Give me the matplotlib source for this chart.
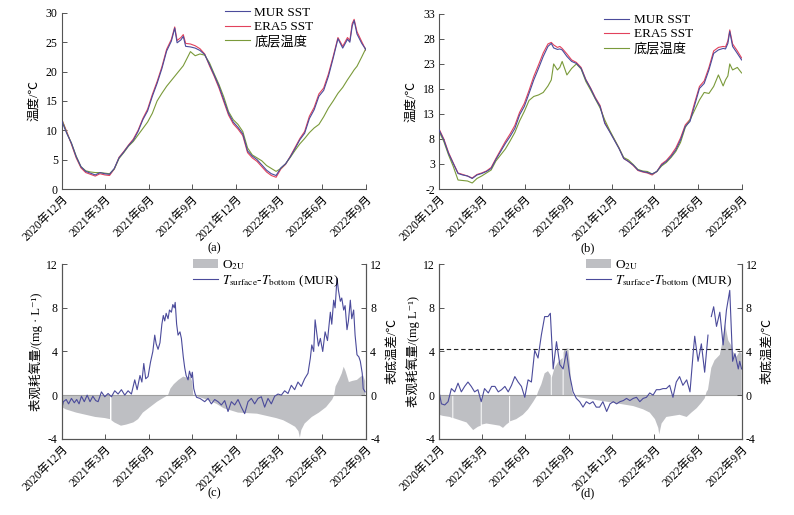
import numpy as np
import matplotlib
matplotlib.use("Agg")
import matplotlib.pyplot as plt

plt.rcParams["font.family"] = ["Liberation Serif", "Noto Sans CJK SC", "DejaVu Serif"]
plt.rcParams["mathtext.fontset"] = "stix"
plt.rcParams["axes.unicode_minus"] = False

START = np.datetime64("2020-12-01")

# ---- x ticks ----
tick_dates = ["2020-12-01", "2021-03-01", "2021-06-01", "2021-09-01",
              "2021-12-01", "2022-03-01", "2022-06-01", "2022-09-01"]
tick_labels = ["2020年12月", "2021年3月", "2021年6月", "2021年9月",
               "2021年12月", "2022年3月", "2022年6月", "2022年9月"]

# ---- panels (a)/(b): day offsets from 2020-12-01 ----
days_top = [0, 10, 20, 30, 40, 50, 60, 70, 80, 90, 100, 110, 120, 130, 140, 150,
            160, 170, 180, 190, 200, 210, 220, 230, 237, 242, 250, 255, 260, 270,
            280, 290, 300, 310, 320, 330, 340, 350, 360, 370, 380, 390, 400, 410,
            420, 430, 440, 450, 460, 470, 480, 490, 500, 510, 520, 530, 540, 550,
            560, 570, 580, 590, 600, 605, 610, 614, 620, 630, 639]

mur_a = [11.5, 9.5, 7.8, 5.5, 3.8, 3.0, 2.7, 2.4, 2.8, 2.6, 2.5, 3.5, 5.3, 6.3, 7.4, 8.3,
         9.8, 11.8, 13.3, 15.8, 18.0, 20.5, 23.5, 25.2, 27.4, 24.9, 25.4, 26.0, 24.3, 24.2,
         24.0, 23.6, 22.9, 21.2, 19.4, 17.5, 15.2, 12.9, 11.4, 10.5, 9.4, 6.5, 5.6, 5.0,
         4.1, 3.2, 2.6, 2.3, 3.6, 4.3, 5.5, 6.9, 8.4, 9.5, 12.0, 13.5, 15.8, 16.8,
         19.2, 22.3, 25.6, 24.0, 25.5, 25.0, 27.8, 28.7, 26.4, 24.8, 23.7]
era5_a = [11.8, 9.8, 7.6, 5.3, 3.6, 2.8, 2.5, 2.2, 2.6, 2.4, 2.3, 3.4, 5.4, 6.4, 7.5, 8.5,
          10.0, 12.0, 13.6, 16.1, 18.3, 20.8, 23.8, 25.5, 27.6, 25.3, 25.8, 26.3, 24.8, 24.7,
          24.4, 23.9, 23.0, 21.0, 19.2, 17.2, 14.9, 12.6, 11.1, 10.2, 9.1, 6.2, 5.3, 4.7,
          3.8, 2.9, 2.3, 2.0, 3.4, 4.2, 5.6, 7.1, 8.6, 9.8, 12.4, 13.9, 16.2, 17.2,
          19.6, 22.6, 25.8, 24.3, 25.8, 25.3, 28.2, 28.9, 26.8, 25.1, 23.6]
bottom_a = [11.8, 9.6, 7.8, 5.6, 3.8, 3.1, 2.9, 2.8, 2.8, 2.7, 2.6, 3.4, 5.2, 6.2, 7.3, 8.1,
            9.2, 10.3, 11.4, 12.9, 15.0, 16.3, 17.5, 18.5, 19.2, 19.7, 20.5, 21.0, 21.8, 23.4,
            22.7, 23.0, 22.8, 21.5, 19.6, 17.8, 15.7, 13.2, 11.8, 11.0, 9.8, 7.0, 5.8, 5.3,
            4.8, 4.0, 3.5, 3.0, 3.5, 4.3, 5.4, 6.6, 7.7, 8.6, 9.6, 10.4, 11.0, 12.3,
            13.8, 15.0, 16.3, 17.3, 18.6, 19.2, 19.8, 20.3, 20.9, 22.5, 24.0]

mur_b = [9.8, 7.8, 5.1, 3.1, 1.1, 0.8, 0.6, 0.1, 0.8, 1.1, 1.5, 2.1, 3.9, 5.5, 7.1, 8.5,
         10.1, 12.8, 14.5, 17.1, 19.8, 22.1, 24.5, 26.5, 27.1, 26.2, 25.9, 26.0, 25.8, 24.5,
         23.5, 23.1, 22.1, 19.8, 18.1, 16.1, 14.5, 11.1, 9.5, 7.8, 6.1, 4.1, 3.5, 2.8,
         1.8, 1.5, 1.3, 1.0, 1.5, 2.8, 3.5, 4.5, 5.8, 7.8, 10.5, 11.5, 14.8, 18.1,
         19.1, 21.8, 25.1, 25.8, 26.1, 26.0, 27.1, 29.5, 26.5, 25.1, 23.8]
era5_b = [10.0, 8.0, 5.3, 3.2, 1.2, 0.9, 0.6, 0.2, 0.9, 1.2, 1.6, 2.3, 4.1, 5.8, 7.5, 9.0,
          10.7, 13.3, 15.1, 17.7, 20.5, 22.8, 25.2, 27.0, 27.3, 26.8, 26.3, 26.5, 26.1, 25.0,
          23.8, 23.3, 22.3, 19.9, 18.2, 16.3, 14.7, 11.3, 9.6, 7.9, 6.2, 4.1, 3.5, 2.7,
          1.7, 1.4, 1.2, 0.8, 1.5, 3.0, 3.7, 4.8, 6.2, 8.2, 10.8, 11.9, 15.3, 18.5,
          19.6, 22.3, 25.6, 26.3, 26.5, 26.4, 27.6, 29.8, 27.0, 25.6, 24.2]
bottom_b = [9.5, 7.5, 4.8, 2.5, -0.2, -0.3, -0.4, -0.8, 0.1, 0.6, 1.2, 1.8, 3.6, 4.8, 6.0, 7.6,
            9.3, 11.6, 13.5, 15.7, 16.5, 16.8, 17.3, 18.6, 19.8, 23.0, 21.8, 22.3, 23.5, 20.8,
            22.1, 23.0, 22.0, 19.5, 17.8, 16.0, 14.2, 11.8, 9.8, 8.0, 6.2, 4.3, 3.8, 2.9,
            1.9, 1.6, 1.5, 1.0, 1.5, 2.6, 3.3, 4.3, 5.5, 7.3, 10.3, 11.8, 13.8, 15.8,
            17.3, 17.1, 18.5, 20.8, 18.6, 19.8, 20.6, 23.0, 21.8, 22.3, 21.2]

# ---- panel (c) ----
days_c_line = [0, 3, 9, 14, 20, 26, 31, 36, 41, 47, 53, 59, 65, 71, 76, 83, 90, 97, 104,
               111, 118, 125, 132, 139, 146, 153, 158, 164, 168, 172, 176, 181, 186, 191,
               195, 198, 202, 206, 210, 213, 216, 219, 223, 226, 230, 233, 236, 238, 241,
               244, 248, 251, 255, 258, 261, 265, 268, 272, 274, 277, 280, 283,
               290, 300, 307, 314, 321, 328, 335, 342, 349, 356, 363, 370, 377, 384, 391,
               398, 405, 412, 419, 426, 433, 440, 447, 454, 461, 468, 475, 482, 489, 496,
               503, 510, 517, 522, 525, 529, 532, 536, 539, 543, 548, 553, 558, 564, 567,
               571, 574, 578, 581, 585, 588, 592, 595, 599, 602, 606, 609, 613, 616, 620,
               624, 627, 631, 633, 637]
dtemp_c = [-1.2, -0.6, -0.4, -0.8, -0.3, -0.7, -0.4, -0.8, -0.1, -0.6, 0.0, -0.6, -0.1, -0.5,
           -0.6, 0.3, -0.15, 0.15, -0.15, 0.4, 0.1, 0.5, 0.0, 0.4, 0.1, 1.4, 0.5, 1.8, 1.2,
           2.9, 1.5, 1.7, 3.0, 4.0, 5.5, 4.7, 4.2, 4.8, 6.5, 7.3, 6.8, 7.5, 7.0, 7.8, 7.6,
           8.3, 8.0, 8.5, 6.5, 5.5, 5.8, 5.2, 3.5, 2.5, 1.8, 1.4, 2.2, 1.6, 2.1, 0.6, 0.1,
           -0.2, -0.3, -0.6, -0.3, -0.8, -0.4, -0.6, -0.9, -0.5, -1.5, -0.6, -0.9, -0.4,
           -1.1, -1.7, -0.6, -0.3, -0.8, -0.3, -0.15, -1.1, -0.3, -0.8, -0.1, 0.1, 0.0, 0.4,
           0.15, 0.9, 0.5, 1.2, 0.8, 1.5, 2.0, 3.4, 4.6, 4.0, 6.9, 5.5, 4.5, 5.2, 4.0, 5.8,
           5.0, 7.6, 6.5, 8.7, 8.0, 10.7, 9.6, 8.6, 8.9, 7.8, 8.2, 6.0, 6.8, 8.7, 7.0, 7.8,
           5.5, 3.7, 3.5, 3.1, 2.0, 0.6, 0.3]

days_c_fill = [0, 8, 30, 50, 70, 90, 101, 102, 104, 110, 124, 135, 150, 160, 170, 185, 200,
               215, 223, 228, 235, 245, 255, 262, 270, 274, 276, 290, 310, 325, 340, 355,
               370, 390, 410, 430, 450, 465, 478, 490, 497, 500, 503, 510, 525, 540, 555,
               568, 572, 575, 582, 588, 592, 596, 603, 610, 620, 628, 633, 637]
o2u_c = [-1.1, -1.3, -1.6, -1.8, -2.0, -2.1, -2.2, np.nan, -2.3, -2.5, -2.8, -2.7, -2.5,
         -2.2, -1.6, -1.1, -0.6, -0.2, 0.0, 0.6, 1.0, 1.4, 1.7, 1.6, 1.7, 1.2, 0.0, -0.2,
         -0.5, -0.8, -1.2, -1.4, -1.6, -1.65, -1.7, -1.9, -2.1, -2.3, -2.6, -2.9, -3.3,
         -3.9, -3.2, -2.6, -2.0, -1.6, -1.1, -0.4, 0.0, 0.8, 1.4, 2.0, 2.6, 2.2, 1.2, 1.3,
         1.4, 1.7, 1.8, 1.3]

# ---- panel (d) ----
days_d_line = [0, 5, 12, 19, 26, 33, 40, 47, 54, 61, 68, 75, 82, 89, 96, 104, 111, 118, 125,
               132, 139, 146, 153, 160, 167, 174, 181, 188, 195, 202, 209, 216, 223, 230,
               235, 241, 248, 255, 262, 269, 276, 283, 290, 297, 304, 311, 318, 325, 332,
               339, 346, 354, 361, 368, 375, 382, 389, 396, 403, 410, 417, 424, 431, 438,
               445, 452, 459, 466, 473, 480, 487, 494, 501, 508, 515, 523, 530, 537, 540,
               547, 554, 561, 568, 572, 575, 580, 586, 593, 600, 607, 614, 620, 625, 632,
               635, 639]
dtemp_d = [0.3, -0.8, -0.9, -0.6, 0.6, 0.3, 1.1, 0.3, 0.8, 1.2, 0.8, 0.3, 0.5, -0.6, 0.6,
           0.2, 0.8, 0.8, 0.3, 0.5, 0.8, 0.3, 0.9, 1.7, 1.2, 0.8, -0.2, 1.4, 1.2, 4.1, 3.4,
           5.5, 7.2, 7.2, 7.5, 2.4, 4.9, 2.8, 2.4, 4.0, 1.8, 0.3, -0.3, -0.6, -1.1, -0.6,
           -0.8, -0.6, -1.1, -1.1, -0.6, -1.5, -0.8, -0.6, -0.8, -0.6, -0.5, -0.3, -0.5,
           -0.3, -0.2, -0.6, -0.3, -0.2, 0.2, 0.0, 0.5, 0.5, 0.6, 0.6, 0.9, -0.2, 1.2, 1.7,
           0.9, 1.4, 0.3, 4.0, 5.4, 3.1, 4.7, 2.1, 5.5, np.nan, 7.2, 8.1, 6.3, 7.6, 4.6, 7.8,
           9.6, 3.1, 3.8, 2.4, 3.1, 2.4]

days_d_fill = [0, 8, 23, 28, 29, 30, 44, 58, 72, 82, 88, 89, 90, 100, 114, 128, 135, 142,
               148, 149, 150, 163, 177, 188, 199, 206, 209, 216, 223, 230, 236, 237, 238,
               244, 251, 258, 261, 262, 263, 265, 273, 276, 280, 283, 297, 325, 354, 382,
               410, 431, 445, 456, 463, 465, 470, 480, 494, 508, 523, 533, 544, 554, 561,
               565, 568, 575, 582, 593, 599, 604, 611, 618, 621, 628, 635, 639]
o2u_d = [-1.8, -1.9, -2.0, -2.1, np.nan, -2.1, -2.3, -2.5, -3.2, -2.9, -2.8, np.nan, -2.7,
         -2.6, -2.7, -2.8, -3.0, -2.7, -2.5, np.nan, -2.4, -2.2, -1.8, -1.3, -0.6, -0.1,
         0.3, 1.0, 2.0, 2.2, 1.8, np.nan, 1.6, 2.5, 3.0, 3.3, 3.4, np.nan, 3.9, 4.2, 4.3,
         3.0, 0.5, 0.0, -0.2, -0.4, -0.6, -0.8, -1.0, -1.3, -1.6, -2.2, -3.0, -3.6, -2.6,
         -2.0, -1.9, -1.8, -2.0, -1.6, -1.2, -0.7, -0.3, 0.3, 0.5, 2.5, 3.2, 3.7, 5.0, 6.5,
         5.0, 4.5, 4.0, 3.5, 4.0, 3.8]
o2u_threshold = 4.2

C_MUR = "#4b4b9b"
C_ERA5 = "#e2425c"
C_BOT = "#7a9a3a"
C_FILL = "#bebfc3"
C_SPINE = "#555555"


def to_dates(days):
    return START + np.array(days, dtype="timedelta64[D]")


def style_time_axis(ax, right_spine=False):
    ax.set_xlim(START, np.datetime64("2022-09-01"))
    ax.set_xticks(np.array(tick_dates, dtype="datetime64[D]"))
    ax.set_xticklabels(tick_labels, rotation=45, ha="right", rotation_mode="anchor")
    ax.tick_params(direction="in", length=3.5, width=0.7, labelsize=8.5,
                   color=C_SPINE, pad=3)
    ax.spines["top"].set_visible(False)
    ax.spines["right"].set_visible(right_spine)
    for s in ax.spines.values():
        s.set_linewidth(0.8)
        s.set_color(C_SPINE)


fig = plt.figure(figsize=(7.94, 5.15), dpi=100)
ax_a = fig.add_axes([0.078, 0.633, 0.383, 0.342])
ax_b = fig.add_axes([0.553, 0.633, 0.381, 0.340])
ax_c = fig.add_axes([0.078, 0.148, 0.383, 0.339])
ax_d = fig.add_axes([0.553, 0.148, 0.381, 0.339])

# top panels
for ax, mur, era5, bot, ylim, yticks, anchor in [
        (ax_a, mur_a, era5_a, bottom_a, (0, 30), range(0, 31, 5), (0.535, 1.035)),
        (ax_b, mur_b, era5_b, bottom_b, (-2, 33), range(-2, 34, 5), (0.545, 1.0))]:
    t = to_dates(days_top)
    ax.plot(t, era5, color=C_ERA5, lw=0.8, label="ERA5 SST", zorder=2)
    ax.plot(t, mur, color=C_MUR, lw=0.8, label="MUR SST", zorder=3)
    ax.plot(t, bot, color=C_BOT, lw=0.8, label="底层温度", zorder=2)
    ax.set_ylim(*ylim)
    ax.set_yticks(list(yticks))
    ax.set_ylabel("温度/℃", fontsize=9, labelpad=4)
    style_time_axis(ax)
    h, l = ax.get_legend_handles_labels()
    order = [1, 0, 2]
    ax.legend([h[i] for i in order], [l[i] for i in order], loc="upper left",
              bbox_to_anchor=anchor, frameon=False, fontsize=9.5,
              handlelength=1.9, handletextpad=0.35, labelspacing=0.15,
              borderpad=0, borderaxespad=0)

# bottom panels
for ax, dl, vl, df, vf, ylabel, anchor in [
        (ax_c, days_c_line, dtemp_c, days_c_fill, o2u_c,
         "表观耗氧量/(mg · L⁻¹)", (0.43, 1.035)),
        (ax_d, days_d_line, dtemp_d, days_d_fill, o2u_d,
         "表观耗氧量/(mg L⁻¹)", (0.485, 1.035))]:
    ax.fill_between(to_dates(df), 0, vf, color=C_FILL, lw=0, label="O$_{\\rm 2U}$")
    ax.axhline(0, color="#a0a0a0", lw=0.8)
    if ax is ax_d:
        ax.axhline(o2u_threshold, color="#222222", lw=0.8, ls=(0, (4, 2.5)))
    ax.set_ylim(-4, 12)
    ax.set_yticks([-4, 0, 4, 8, 12])
    ax.set_ylabel(ylabel, fontsize=9, labelpad=2)
    style_time_axis(ax, right_spine=True)

    ax2 = ax.twinx()
    ax2.plot(to_dates(dl), vl, color=C_MUR, lw=0.8,
             label="$T_{\\rm surface}$-$T_{\\rm bottom}$ (MUR)")
    ax2.set_ylim(-4, 12)
    ax2.set_yticks([-4, 0, 4, 8, 12])
    ax2.set_ylabel("表底温差/℃", fontsize=9, labelpad=3)
    ax2.tick_params(direction="in", length=3.5, width=0.7, labelsize=8.5,
                    color=C_SPINE, pad=3)
    for s in ax2.spines.values():
        s.set_linewidth(0.8)
        s.set_color(C_SPINE)
    ax2.spines["top"].set_visible(False)

    h1, l1 = ax.get_legend_handles_labels()
    h2, l2 = ax2.get_legend_handles_labels()
    ax2.legend(h1 + h2, l1 + l2, loc="upper left", bbox_to_anchor=anchor,
               frameon=False, fontsize=9.5, handlelength=1.9, handletextpad=0.35,
               labelspacing=0.1, borderpad=0, borderaxespad=0)

for x, y, s in [(0.27, 0.518, "(a)"), (0.74, 0.518, "(b)"),
                (0.27, 0.043, "(c)"), (0.74, 0.043, "(d)")]:
    fig.text(x, y, s, ha="center", va="center", fontsize=9)

fig.savefig("out.png", dpi=100)
